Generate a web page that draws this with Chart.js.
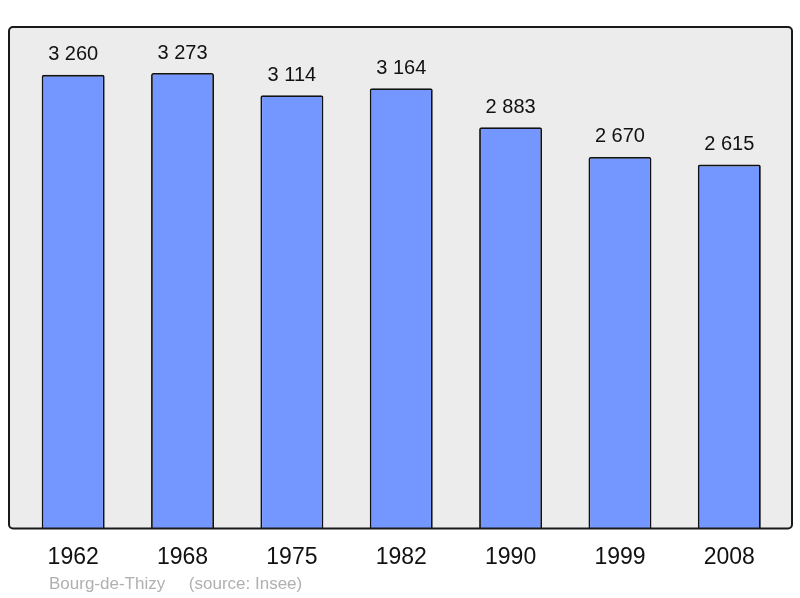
<!DOCTYPE html>
<html>
<head>
<meta charset="utf-8">
<script src="https://cdn.jsdelivr.net/npm/chart.js@4/dist/chart.umd.min.js"></script>
<style>
  body { margin: 0; background: #fff; }
  canvas { display: block; }
</style>
</head>
<body>
<canvas id="popChart" width="800" height="598"></canvas>
<script>
  // données de population
  const years = ['1962', '1968', '1975', '1982', '1990', '1999', '2008'];
  const population = [3260, 3273, 3114, 3164, 2883, 2670, 2615];
  const commune = 'Bourg-de-Thizy';
  const source = '(source: Insee)';

  const fontName = '"Liberation Sans", Arial, sans-serif';

  // fond gris + cadre arrondi autour de la zone du graphique
  const framePlugin = {
    id: 'frame',
    beforeDatasetsDraw(chart) {
      const { ctx, chartArea } = chart;
      ctx.save();
      ctx.beginPath();
      ctx.roundRect(chartArea.left - 9.5, chartArea.top, chartArea.width + 17.5, chartArea.height, 4);
      ctx.fillStyle = '#ececec';
      ctx.fill();
      ctx.restore();
    },
    afterDatasetsDraw(chart) {
      const { ctx, chartArea } = chart;
      ctx.save();
      ctx.beginPath();
      ctx.roundRect(chartArea.left - 9.5, chartArea.top, chartArea.width + 17.5, chartArea.height, 4);
      ctx.lineWidth = 2;
      ctx.strokeStyle = '#1a1a1a';
      ctx.stroke();

      // valeurs au-dessus des barres
      const meta = chart.getDatasetMeta(0);
      ctx.font = '20px ' + fontName;
      ctx.fillStyle = '#111';
      ctx.textAlign = 'center';
      ctx.textBaseline = 'middle';
      meta.data.forEach((bar, i) => {
        const txt = population[i].toLocaleString('fr-FR').replace(/\s/g, ' ');
        ctx.fillText(txt, bar.x, bar.y - 20);
      });

      // pied de page
      ctx.font = '17px ' + fontName;
      ctx.fillStyle = '#b0b0b0';
      ctx.textAlign = 'left';
      ctx.fillText(commune + '     ' + source, 49, 584);
      ctx.restore();
    }
  };

  new Chart(document.getElementById('popChart'), {
    type: 'bar',
    data: {
      labels: years,
      datasets: [{
        data: population,
        backgroundColor: '#7396ff',
        borderColor: '#111',
        borderWidth: 1.8,
        borderRadius: 2,
        borderSkipped: 'bottom',
        barPercentage: 0.576,
        categoryPercentage: 1
      }]
    },
    options: {
      responsive: false,
      animation: false,
      layout: { padding: { top: 27, left: 18.5, right: 16, bottom: 20 } },
      plugins: {
        legend: { display: false },
        tooltip: { enabled: false }
      },
      scales: {
        y: { display: false, min: 0, max: 3604 },
        x: {
          grid: { display: false },
          border: { display: false },
          ticks: {
            color: '#111',
            padding: 7,
            font: { family: fontName, size: 23 }
          }
        }
      }
    },
    plugins: [framePlugin]
  });
</script>
</body>
</html>
